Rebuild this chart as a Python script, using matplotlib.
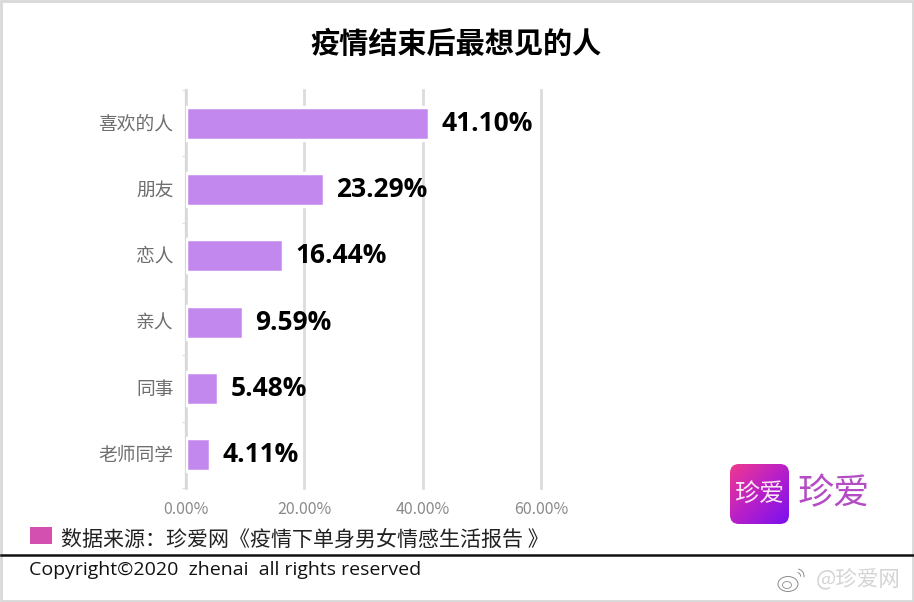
import numpy as np
import matplotlib
matplotlib.use("Agg")
import matplotlib.pyplot as plt
from matplotlib.colors import LinearSegmentedColormap
from matplotlib.patches import Arc, Ellipse, FancyBboxPatch, Rectangle
from matplotlib.transforms import ScaledTranslation

plt.rcParams['font.family'] = ['Noto Sans CJK SC', 'DejaVu Sans']

categories = ["喜欢的人", "朋友", "恋人", "亲人", "同事", "老师同学"]
values = [41.10, 23.29, 16.44, 9.59, 5.48, 4.11]
x_ticks = [0, 20, 40, 60]
W, H = 914, 602

fig = plt.figure(figsize=(W / 100, H / 100), dpi=100)

# background layer in pixel coordinates
bg = fig.add_axes([0, 0, 1, 1])
bg.axis("off")
bg.add_patch(Rectangle((1, 1), W - 2, H - 2, fc="white", ec="#d8d8d8", lw=2))
bg.plot([1, W - 1], [554.5, 554.5], color="#111111", lw=1.8)

ax = fig.add_axes([186 / W, 1 - 488 / H, (541 - 186) / W, (488 - 90) / H])
ax.patch.set_alpha(0)
y = np.arange(len(categories))
ax.barh(y, values, height=0.5, color="#c388ee", edgecolor="white", linewidth=2.5, zorder=3)
ax.set_xlim(0, 60)
ax.set_ylim(len(categories) - 0.5, -0.5)
ax.set_yticks(y)
ax.set_yticklabels(categories, fontsize=13.5, color="#6e6e6e")
ax.set_yticks(np.arange(len(categories) + 1) - 0.5, minor=True)
ax.tick_params(axis="y", which="major", length=0, pad=9)
ax.tick_params(axis="y", which="minor", length=3, color="#e2e2e2", width=1)
ax.set_xticks(x_ticks)
ax.set_xticklabels([f"{t:.2f}%" for t in x_ticks], fontsize=11.5, color="#8a8a8a")
ax.tick_params(axis="x", length=0, pad=9)
ax.grid(axis="x", color="#dcdcdc", lw=2, zorder=0, clip_on=False)
for s in ["top", "right", "bottom"]:
    ax.spines[s].set_visible(False)
ax.spines["left"].set_color("#d8d8d8")
ax.spines["left"].set_linewidth(1.6)

# category labels sit a little higher than matplotlib centres them
up = ScaledTranslation(0, 2 / 100, fig.dpi_scale_trans)
for label in ax.get_yticklabels():
    label.set_transform(label.get_transform() + up)

for yi, v in zip(y, values):
    ax.annotate(f"{v:.2f}%", (v, yi), xytext=(12, 0), textcoords="offset pixels",
                va="center", ha="left", fontsize=19, fontweight="bold", color="black",
                family=["Open Sans", "Noto Sans CJK SC"], zorder=4)

# title, source and footer
bg.text(456, 44, "疫情结束后最想见的人", ha="center", va="center", fontsize=21, fontweight="bold", color="black")
bg.add_patch(Rectangle((30, 527), 22, 17, fc="#d34fb0", ec="none"))
bg.text(61, 540, "数据来源：珍爱网《疫情下单身男女情感生活报告 》", ha="left", va="center", fontsize=15.1, color="#222222")
bg.text(29, 570, "Copyright©2020  zhenai  all rights reserved", ha="left", va="center", fontsize=14,
        color="#111111", family=["Open Sans", "Noto Sans CJK SC"])

# logo
cmap = LinearSegmentedColormap.from_list("logo", ["#f0388f", "#b820c8", "#7a10f0"])
grad = np.add.outer(np.linspace(0, 1, 60), np.linspace(0, 1, 60)) / 2
im = bg.imshow(grad, cmap=cmap, extent=(730, 789, 524, 464), zorder=2, aspect="auto")
box = FancyBboxPatch((739, 473), 41, 42, boxstyle="round,pad=9", fc="none", ec="none")
bg.add_patch(box)
im.set_clip_path(box)
bg.text(759.5, 494, "珍爱", ha="center", va="center", fontsize=18, color="#fbe6f5", zorder=3)
bg.text(834, 494, "珍爱", ha="center", va="center", fontsize=26, color="#b44cc4", zorder=3)

# weibo watermark
bg.text(858, 579, "@珍爱网", ha="center", va="center", fontsize=15.5, color="#d4d4d4", zorder=3)
bg.add_patch(Ellipse((788, 584), 20, 15, fc="white", ec="#8c8c8c", lw=0.7, zorder=3))
bg.add_patch(Ellipse((787, 585), 9, 7, fc="white", ec="#8c8c8c", lw=0.6, zorder=3))
bg.add_patch(Arc((797, 576), 14, 14, theta1=-80, theta2=10, ec="#8c8c8c", lw=0.7, zorder=3))
bg.add_patch(Arc((797, 576), 7, 7, theta1=-80, theta2=10, ec="#8c8c8c", lw=0.7, zorder=3))

bg.set_xlim(0, W)
bg.set_ylim(H, 0)

fig.savefig("out.png", dpi=100)
